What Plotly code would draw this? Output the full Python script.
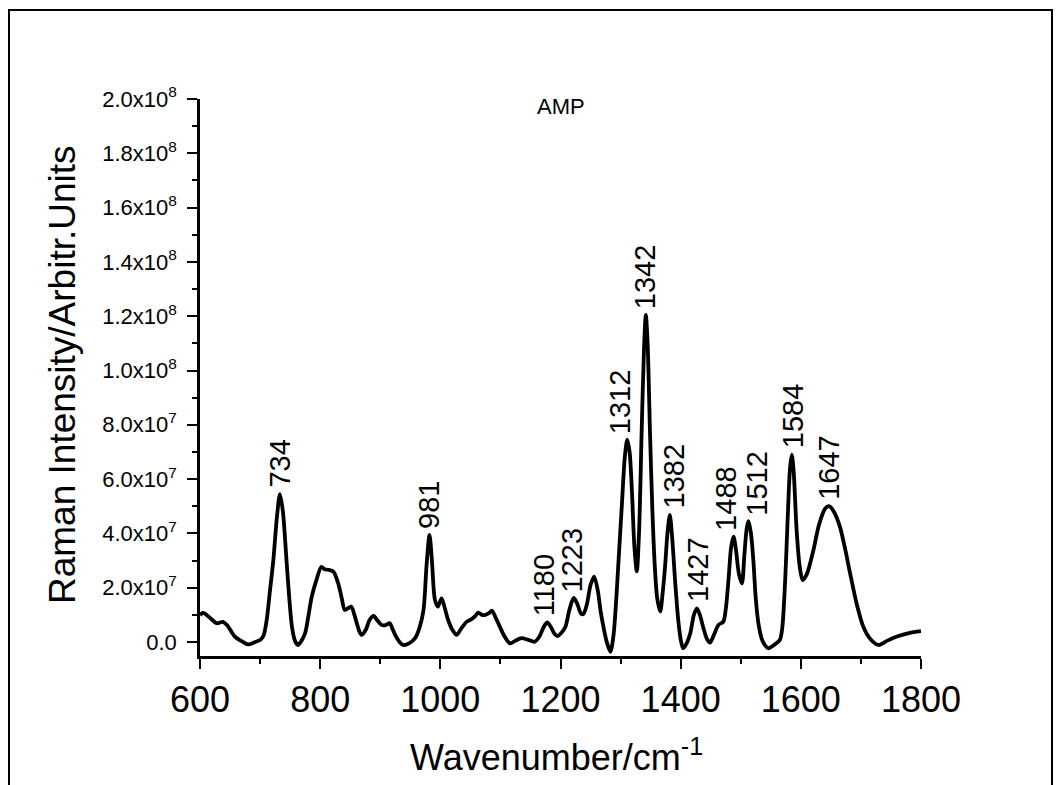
import numpy as np
import plotly.graph_objects as go

# Raman spectrum of AMP (intensity in units of 1e7)
wavenumber = [
    600, 605, 615, 628, 638, 645, 658, 670, 680, 692, 700, 706, 711, 716, 722, 728, 733, 738, 744, 749,
    753, 758, 763, 769, 775, 780, 786, 794, 802, 807, 813, 822, 830, 836, 841, 847, 852, 857, 861, 865,
    869, 876, 882, 889, 895, 902, 909, 916, 920, 925, 932, 938, 948, 958, 965, 972, 977, 982, 986, 991,
    996, 1002, 1008, 1013, 1020, 1027, 1035, 1044, 1052, 1058, 1063, 1069, 1074, 1080, 1086, 1092, 1099,
    1107, 1116, 1125, 1135, 1146, 1157, 1165, 1172, 1178, 1184, 1190, 1195, 1202, 1208, 1215, 1222, 1228,
    1234, 1238, 1244, 1250, 1256, 1262, 1267, 1272, 1277, 1283, 1288, 1292, 1296, 1302, 1307, 1311, 1315,
    1319, 1323, 1327, 1331, 1335, 1339, 1342, 1345, 1349, 1353, 1357, 1361, 1366, 1370, 1374, 1378, 1382,
    1386, 1391, 1396, 1400, 1404, 1410, 1416, 1422, 1427, 1432, 1438, 1444, 1449, 1456, 1463, 1471, 1475,
    1480, 1484, 1488, 1492, 1497, 1502, 1506, 1510, 1513, 1517, 1521, 1525, 1530, 1536, 1546, 1556, 1565,
    1569, 1574, 1578, 1582, 1585, 1588, 1593, 1598, 1603, 1610, 1621, 1630, 1640, 1647, 1655, 1665, 1674,
    1682, 1693, 1704, 1716, 1729, 1744, 1760, 1780, 1800,
]
intensity_e7 = [
    0.99, 1.07, 0.92, 0.69, 0.74, 0.62, 0.20, 0.02, -0.09, 0.00, 0.07, 0.25, 0.81, 1.8, 3.0, 4.6, 5.45, 4.8, 3.0, 1.5,
    0.56, 0.05, -0.11, 0.05, 0.33, 0.9, 1.67, 2.3, 2.77, 2.68, 2.66, 2.59, 2.16, 1.6, 1.18, 1.25, 1.30, 1.0, 0.69, 0.4,
    0.26, 0.45, 0.8, 0.96, 0.8, 0.63, 0.62, 0.69, 0.5, 0.25, 0.0, -0.11, -0.05, 0.14, 0.5, 1.18, 2.8, 3.94, 3.0, 1.55,
    1.30, 1.61, 1.2, 0.81, 0.45, 0.26, 0.5, 0.75, 0.84, 0.95, 1.08, 1.0, 0.99, 1.05, 1.15, 0.9, 0.56,
    0.2, -0.05, 0.05, 0.14, 0.08, 0.01, 0.2, 0.55, 0.72, 0.55, 0.3, 0.22, 0.35, 0.55, 1.2, 1.62, 1.4,
    1.05, 1.03, 1.4, 2.1, 2.41, 1.9, 1.1, 0.5, 0.0, -0.36, 0.2, 1.3, 2.77, 5.0, 6.8, 7.45, 7.0,
    5.5, 3.5, 2.6, 4.2, 7.69, 10.8, 12.05, 11.0, 7.69, 4.8, 2.77, 1.6, 1.12, 1.8, 2.77, 4.0, 4.68,
    3.8, 2.16, 0.8, 0.1, -0.23, -0.05, 0.32, 1.0, 1.24, 1.0, 0.5, 0.1, -0.02, 0.3, 0.63, 0.75, 1.2,
    2.4, 3.5, 3.88, 3.4, 2.5, 2.16, 3.2, 4.2, 4.45, 4.0, 3.0, 1.6, 0.6, 0.05, -0.23, -0.1, 0.07,
    0.5, 2.3, 4.5, 6.4, 6.9, 6.3, 4.12, 2.8, 2.28, 2.5, 3.39, 4.3, 4.9, 5.0, 4.8, 4.25, 3.4,
    2.53, 1.4, 0.56, 0.1, -0.11, 0.05, 0.20, 0.33, 0.40,
]
intensity = np.array(intensity_e7) * 1e7

# peak labels: text, label position and the peak height it sits on
peak_labels = ["734", "981", "1180", "1223", "1312", "1342", "1382", "1427", "1488", "1512", "1584", "1647"]
peak_label_x = [734, 981, 1174, 1219, 1299, 1342, 1389, 1429, 1475, 1527, 1587, 1647]
peak_label_y = [5.45, 3.94, 0.72, 1.62, 7.45, 12.05, 4.68, 1.24, 3.88, 4.45, 6.9, 5.0]

ytick_vals = [0, 2e7, 4e7, 6e7, 8e7, 1e8, 1.2e8, 1.4e8, 1.6e8, 1.8e8, 2e8]
ytick_text = ["0.0", "2.0x10<sup>7</sup>", "4.0x10<sup>7</sup>", "6.0x10<sup>7</sup>", "8.0x10<sup>7</sup>",
              "1.0x10<sup>8</sup>", "1.2x10<sup>8</sup>", "1.4x10<sup>8</sup>", "1.6x10<sup>8</sup>",
              "1.8x10<sup>8</sup>", "2.0x10<sup>8</sup>"]

font = "Liberation Sans, Arial, sans-serif"

fig = go.Figure()
fig.add_trace(go.Scatter(
    x=wavenumber, y=intensity, mode="lines",
    line=dict(color="black", width=3.8, shape="spline", smoothing=0.8),
    showlegend=False, hoverinfo="x+y",
))

for txt, lx, ly in zip(peak_labels, peak_label_x, peak_label_y):
    fig.add_annotation(x=lx, y=ly * 1e7, text=txt, textangle=-90, showarrow=False,
                       xanchor="center", yanchor="bottom", yshift=4,
                       font=dict(family=font, size=29, color="black"))

fig.add_annotation(x=0.5, y=0.986, xref="paper", yref="paper", text="AMP", showarrow=False,
                   xanchor="center", yanchor="middle", font=dict(family=font, size=22, color="black"))
fig.add_annotation(x=0.495, y=-0.178, xref="paper", yref="paper", text="Wavenumber/cm<sup>-1</sup>",
                   showarrow=False, xanchor="center", yanchor="middle",
                   font=dict(family=font, size=36, color="black"))
fig.add_annotation(x=-0.191, y=0.505, xref="paper", yref="paper", text="Raman Intensity/Arbitr.Units",
                   textangle=-90, showarrow=False, xanchor="center", yanchor="middle",
                   font=dict(family=font, size=37, color="black"))

# outer frame, open at the bottom
fig.add_shape(type="path", xref="paper", yref="paper",
              path="M -0.2649,-0.25 L -0.2649,1.1598 L 1.1817,1.1598 L 1.1817,-0.25",
              line=dict(color="black", width=2))

fig.update_xaxes(
    range=[600, 1800], tickmode="linear", tick0=600, dtick=200,
    ticks="outside", ticklen=10, tickwidth=2, tickcolor="black",
    showline=True, linecolor="black", linewidth=2.5, showgrid=False, zeroline=False,
    tickfont=dict(family=font, size=36, color="black"),
    minor=dict(tickmode="linear", tick0=600, dtick=100, ticks="outside", ticklen=5,
               tickwidth=2, tickcolor="black", showgrid=False),
)
fig.update_yaxes(
    range=[-5.16e6, 2e8], tickmode="array", tickvals=ytick_vals, ticktext=ytick_text,
    ticks="outside", ticklen=10, tickwidth=2, tickcolor="black", ticklabelstandoff=6,
    showline=True, linecolor="black", linewidth=2.5, showgrid=False, zeroline=False,
    tickfont=dict(family=font, size=22, color="black"),
    minor=dict(tickmode="linear", tick0=0, dtick=1e7, ticks="outside", ticklen=5,
               tickwidth=2, tickcolor="black", showgrid=False),
)

# page body has an 8px margin, so the figure is shrunk and the margins shifted by that amount
fig.update_layout(
    width=1055, height=777,
    margin=dict(l=192, r=142, t=91, b=129),
    paper_bgcolor="white", plot_bgcolor="white",
    font=dict(family=font, color="black"),
)

fig.write_html("out.html")
